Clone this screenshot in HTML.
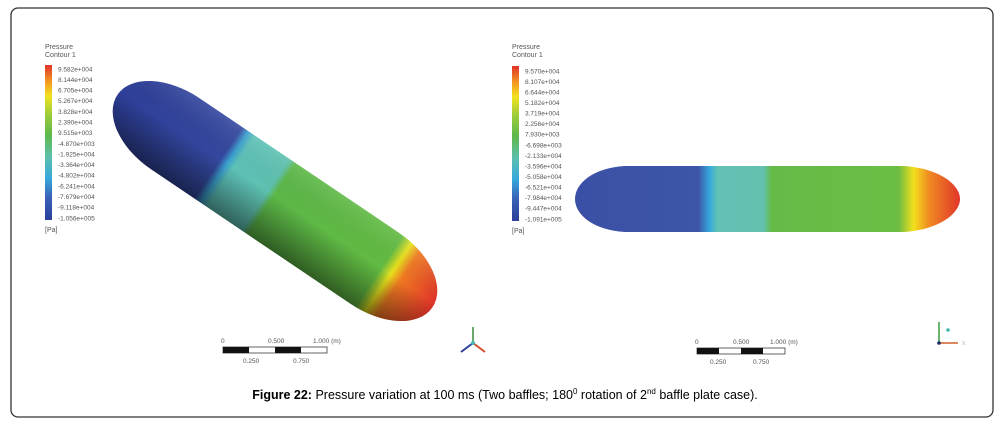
<!DOCTYPE html>
<html><head><meta charset="utf-8">
<style>
html,body{margin:0;padding:0;background:#fff;}
body{width:1004px;height:425px;overflow:hidden;font-family:"Liberation Sans",sans-serif;}
svg text{font-family:"Liberation Sans",sans-serif;}
</style></head>
<body>
<svg id="fig" width="1004" height="425" viewBox="0 0 1004 425">
<defs>
  <linearGradient id="cbar" x1="0" y1="1" x2="0" y2="0">
    <stop offset="0" stop-color="#2b3f9a"/>
    <stop offset="0.15" stop-color="#3a64b8"/>
    <stop offset="0.27" stop-color="#36a8dc"/>
    <stop offset="0.4" stop-color="#5bbfb0"/>
    <stop offset="0.55" stop-color="#5fb84a"/>
    <stop offset="0.68" stop-color="#9ccc3a"/>
    <stop offset="0.8" stop-color="#f2e21e"/>
    <stop offset="0.9" stop-color="#f39222"/>
    <stop offset="1" stop-color="#e0322a"/>
  </linearGradient>
  <linearGradient id="leftBody" x1="-190" y1="0" x2="190" y2="0" gradientUnits="userSpaceOnUse">
    <stop offset="0" stop-color="#2e3f99"/>
    <stop offset="0.32" stop-color="#34489f"/>
    <stop offset="0.34" stop-color="#3aa0d0"/>
    <stop offset="0.36" stop-color="#5ec1b8"/>
    <stop offset="0.47" stop-color="#5ec1b0"/>
    <stop offset="0.49" stop-color="#5cb848"/>
    <stop offset="0.83" stop-color="#62bb42"/>
    <stop offset="0.86" stop-color="#e8e21c"/>
    <stop offset="0.89" stop-color="#f07a22"/>
    <stop offset="1" stop-color="#e0322a"/>
  </linearGradient>
  <linearGradient id="leftShade" x1="0" y1="-43" x2="0" y2="43" gradientUnits="userSpaceOnUse">
    <stop offset="0" stop-color="#fff" stop-opacity="0.1"/>
    <stop offset="0.45" stop-color="#000" stop-opacity="0"/>
    <stop offset="1" stop-color="#000" stop-opacity="0.5"/>
  </linearGradient>
  <linearGradient id="rightBody" x1="575" y1="0" x2="960" y2="0" gradientUnits="userSpaceOnUse">
    <stop offset="0" stop-color="#3a50a6"/>
    <stop offset="0.32" stop-color="#3d56a8"/>
    <stop offset="0.35" stop-color="#35a9dc"/>
    <stop offset="0.37" stop-color="#62c1b4"/>
    <stop offset="0.49" stop-color="#62c1ae"/>
    <stop offset="0.51" stop-color="#66bb48"/>
    <stop offset="0.84" stop-color="#6cbd44"/>
    <stop offset="0.88" stop-color="#f2e01c"/>
    <stop offset="0.92" stop-color="#f08a22"/>
    <stop offset="1" stop-color="#e0342a"/>
  </linearGradient>
</defs>
<rect x="11" y="8" width="982" height="409" rx="7" fill="#fff" stroke="#333" stroke-width="1.3"/>

<g id="legendL">
  <text x="45" y="49" font-size="7" fill="#555">Pressure</text>
  <text x="45" y="57" font-size="7" fill="#555">Contour 1</text>
  <rect x="45" y="65" width="7" height="155" fill="url(#cbar)"/>
  <text x="45" y="232" font-size="7" fill="#555">[Pa]</text>
</g>
<g id="legendR">
  <text x="512" y="49" font-size="7" fill="#555">Pressure</text>
  <text x="512" y="57" font-size="7" fill="#555">Contour 1</text>
  <rect x="512" y="66" width="7" height="155" fill="url(#cbar)"/>
  <text x="512" y="233" font-size="7" fill="#555">[Pa]</text>
</g>

<g transform="translate(275,201) rotate(34)">
  <rect x="-190" y="-43" width="380" height="86" rx="70" ry="43" fill="url(#leftBody)"/>
  <rect x="-190" y="-43" width="380" height="86" rx="70" ry="43" fill="url(#leftShade)"/>
</g>

<path d="M625,166 L905,166 C942,169 960,186 960,199 C960,212 942,229 905,232 L625,232 C592,230 575,214 575,199 C575,184 592,168 625,166 Z" fill="url(#rightBody)"/>

<g>
  <rect x="223" y="347" width="104" height="6" fill="#fff" stroke="#222" stroke-width="0.7"/>
  <rect x="223" y="347" width="26" height="6" fill="#111"/>
  <rect x="275" y="347" width="26" height="6" fill="#111"/>
  <text x="221" y="343" font-size="6.5" fill="#555">0</text>
  <text x="268" y="343" font-size="6.5" fill="#555">0.500</text>
  <text x="313" y="343" font-size="6.5" fill="#555">1.000  (m)</text>
  <text x="243" y="363" font-size="6.5" fill="#555">0.250</text>
  <text x="293" y="363" font-size="6.5" fill="#555">0.750</text>
</g>
<g>
  <rect x="697" y="348" width="88" height="6" fill="#fff" stroke="#222" stroke-width="0.7"/>
  <rect x="697" y="348" width="22" height="6" fill="#111"/>
  <rect x="741" y="348" width="22" height="6" fill="#111"/>
  <text x="695" y="344" font-size="6.5" fill="#555">0</text>
  <text x="733" y="344" font-size="6.5" fill="#555">0.500</text>
  <text x="770" y="344" font-size="6.5" fill="#555">1.000  (m)</text>
  <text x="710" y="364" font-size="6.5" fill="#555">0.250</text>
  <text x="753" y="364" font-size="6.5" fill="#555">0.750</text>
</g>

<g>
  <line x1="473" y1="343" x2="473" y2="327" stroke="#3a8a3a" stroke-width="1.5"/>
  <line x1="473" y1="343" x2="461" y2="352" stroke="#2c3f9a" stroke-width="2"/>
  <line x1="473" y1="343" x2="485" y2="352" stroke="#d0502a" stroke-width="2"/>
  <circle cx="473" cy="343" r="2" fill="#4ab8b0"/>
</g>
<g>
  <line x1="939" y1="343" x2="939" y2="322" stroke="#3a9a3a" stroke-width="1.5"/>
  <line x1="939" y1="343" x2="958" y2="343" stroke="#d0602a" stroke-width="1.5"/>
  <circle cx="939" cy="343" r="1.8" fill="#1a2a6a"/>
  <circle cx="948" cy="330" r="1.8" fill="#3ab8a8"/>
  <text x="962" y="345" font-size="5" fill="#aaa">X</text>
</g>

<text x="505" y="399" font-size="12.5" text-anchor="middle" fill="#000"><tspan font-weight="bold">Figure 22:</tspan> Pressure variation at 100 ms (Two baffles; 180<tspan font-size="8" dy="-5">0</tspan><tspan dy="5"> rotation of 2</tspan><tspan font-size="8" dy="-5">nd</tspan><tspan dy="5"> baffle plate case).</tspan></text>
</svg>
<script>
const leftLegendLabels = ["9.582e+004","8.144e+004","6.705e+004","5.267e+004","3.828e+004","2.390e+004","9.515e+003","-4.870e+003","-1.925e+004","-3.364e+004","-4.802e+004","-6.241e+004","-7.679e+004","-9.118e+004","-1.056e+005"];
const rightLegendLabels = ["9.570e+004","8.107e+004","6.644e+004","5.182e+004","3.719e+004","2.256e+004","7.930e+003","-6.698e+003","-2.133e+004","-3.596e+004","-5.058e+004","-6.521e+004","-7.984e+004","-9.447e+004","-1.091e+005"];
const ns = "http://www.w3.org/2000/svg";
function addLabels(groupId, labels, x, y0, y1) {
  const g = document.getElementById(groupId);
  const step = (y1 - y0) / (labels.length - 1);
  labels.forEach((lab, i) => {
    const t = document.createElementNS(ns, "text");
    t.setAttribute("x", x);
    t.setAttribute("y", y0 + i * step + 2.3);
    t.setAttribute("font-size", "6.5");
    t.setAttribute("fill", "#555");
    t.textContent = lab;
    
    
    g.appendChild(t);
  });
}
addLabels("legendL", leftLegendLabels, 58, 69, 218);
addLabels("legendR", rightLegendLabels, 525, 71, 219);
</script>
</body></html>
